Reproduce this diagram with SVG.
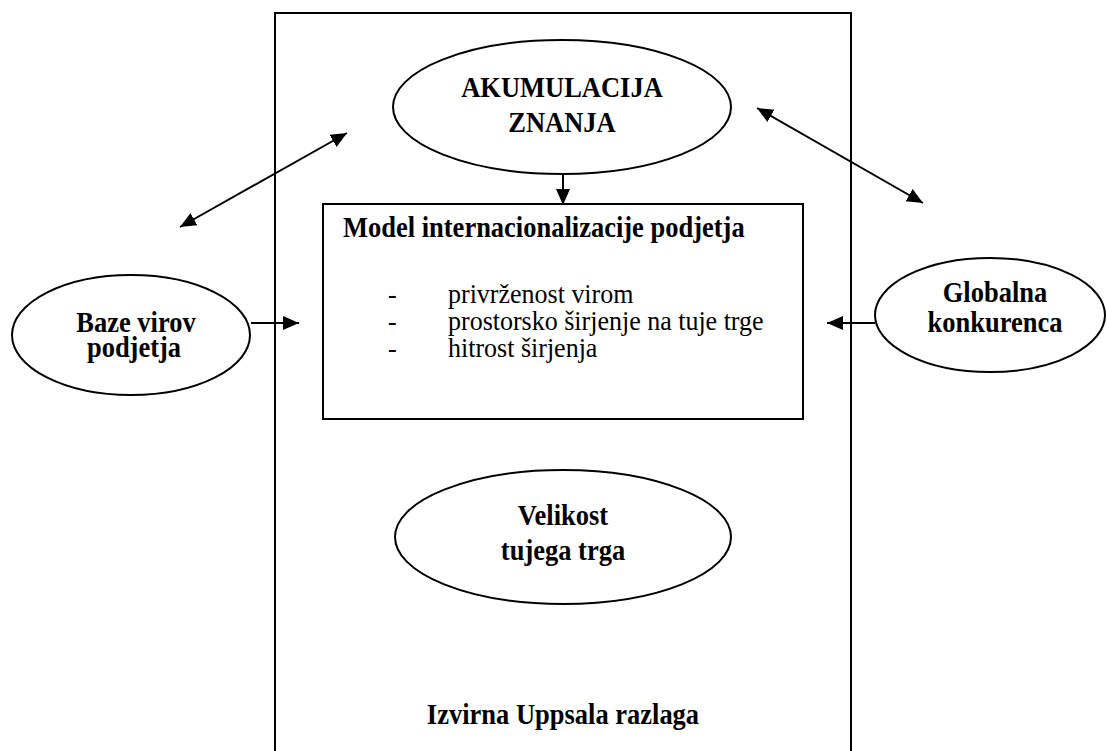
<svg xmlns="http://www.w3.org/2000/svg" width="1107" height="751" viewBox="0 0 1107 751">
  <style>
    .shape { fill: #ffffff; stroke: #000000; stroke-width: 2; }
    .link { stroke: #000000; stroke-width: 2; fill: none; }
    .bold { font-family: "Liberation Serif", "Times New Roman", serif; font-weight: bold; font-size: 26.5px; fill: #000000; text-anchor: middle; }
    .plain { font-family: "Liberation Serif", "Times New Roman", serif; font-size: 26px; fill: #000000; }
  </style>
  <defs>
    <marker id="head" markerUnits="userSpaceOnUse" markerWidth="18" markerHeight="16" refX="16" refY="7" orient="auto-start-reverse">
      <path d="M0,0 L16,7 L0,14 Z" fill="#000000"/>
    </marker>
  </defs>

  <rect width="1107" height="751" fill="#ffffff"/>

  <!-- frame of the original Uppsala model -->
  <g id="frame">
    <path class="link" d="M275,760 L275,13 L851,13 L851,760"/>
    <text class="bold" transform="translate(563,724) scale(1,1.1)">Izvirna Uppsala razlaga</text>
  </g>

  <g id="akumulacija">
    <ellipse class="shape" cx="562" cy="107" rx="169" ry="67"/>
    <text class="bold" transform="translate(562,97) scale(1,1.1)">AKUMULACIJA</text>
    <text class="bold" transform="translate(562,132) scale(1,1.1)">ZNANJA</text>
  </g>

  <g id="model">
    <rect class="shape" x="323" y="204" width="480" height="215"/>
    <text class="bold" style="text-anchor:start" transform="translate(343,237) scale(1,1.1)">Model internacionalizacije podjetja</text>
    <g class="plain">
      <text transform="translate(388,303) scale(1,1.05)">-</text>
      <text transform="translate(448,303) scale(1,1.05)">privrženost virom</text>
      <text transform="translate(388,330) scale(1,1.05)">-</text>
      <text transform="translate(448,330) scale(1,1.05)">prostorsko širjenje na tuje trge</text>
      <text transform="translate(388,357) scale(1,1.05)">-</text>
      <text transform="translate(448,357) scale(1,1.05)">hitrost širjenja</text>
    </g>
  </g>

  <g id="baze">
    <ellipse class="shape" cx="131" cy="335" rx="119" ry="60"/>
    <text class="bold" transform="translate(136,332) scale(1,1.1)">Baze virov</text>
    <text class="bold" transform="translate(134,357) scale(1,1.1)">podjetja</text>
  </g>

  <g id="globalna">
    <ellipse class="shape" cx="990" cy="315" rx="115" ry="57"/>
    <text class="bold" transform="translate(995,302) scale(1,1.1)">Globalna</text>
    <text class="bold" transform="translate(995,332) scale(1,1.1)">konkurenca</text>
  </g>

  <g id="velikost">
    <ellipse class="shape" cx="563" cy="537" rx="168" ry="67"/>
    <text class="bold" transform="translate(563,525) scale(1,1.1)">Velikost</text>
    <text class="bold" transform="translate(563,560) scale(1,1.1)">tujega trga</text>
  </g>

  <g id="connectors">
    <line class="link" x1="563" y1="174" x2="563" y2="205" marker-end="url(#head)"/>
    <line class="link" x1="251" y1="323" x2="299" y2="323" marker-end="url(#head)"/>
    <line class="link" x1="875" y1="323" x2="827" y2="323" marker-end="url(#head)"/>
    <line class="link" x1="180" y1="227" x2="347" y2="133" marker-start="url(#head)" marker-end="url(#head)"/>
    <line class="link" x1="757" y1="108" x2="923" y2="203" marker-start="url(#head)" marker-end="url(#head)"/>
  </g>
</svg>
